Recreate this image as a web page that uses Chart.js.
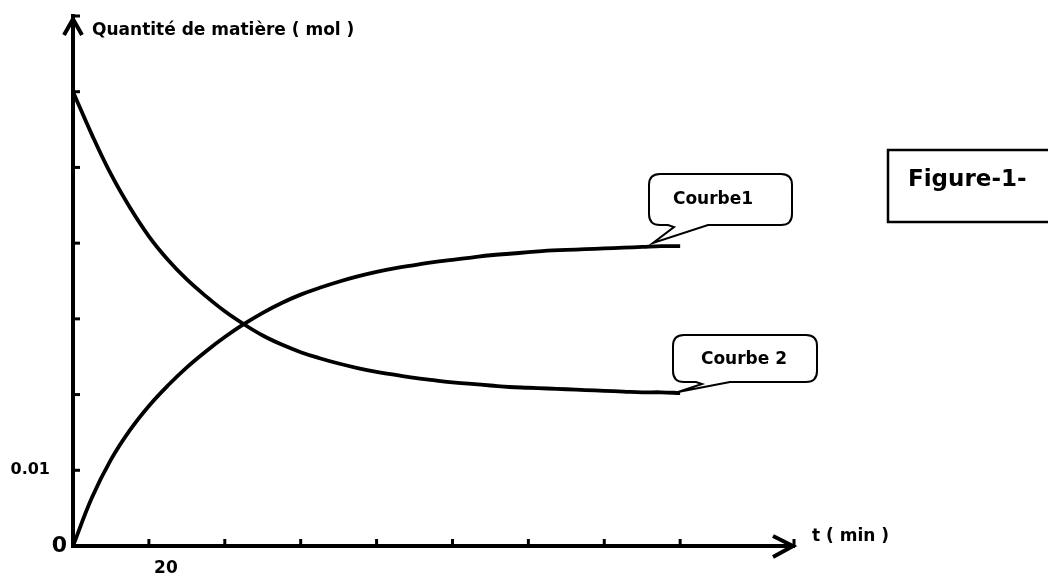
<!DOCTYPE html>
<html>
<head>
<meta charset="utf-8">
<script src="https://cdn.jsdelivr.net/npm/chart.js@4.4.1/dist/chart.umd.min.js"></script>
<style>
  html, body { margin: 0; padding: 0; background: #fff; }
  #wrap { width: 1048px; height: 576px; position: relative; }
</style>
</head>
<body>
<div id="wrap"><canvas id="c" width="1048" height="576"></canvas></div>
<script>
// ---- data ----
const times   = [0, 5, 10, 15, 20, 25, 30, 35, 40, 45, 50, 55, 60, 65, 70, 75, 80, 85, 90, 95, 100, 105, 110, 115, 120, 125, 130, 135, 140, 145, 150, 155, 160];
const courbe1 = [0, 0.0064, 0.0114, 0.0153, 0.0185, 0.0212, 0.0236, 0.0257, 0.0276, 0.0293, 0.0308, 0.0321, 0.0332, 0.0341, 0.0349, 0.0356, 0.0362, 0.0367, 0.0371, 0.0375, 0.0378, 0.0381, 0.0384, 0.0386, 0.0388, 0.0390, 0.0391, 0.0392, 0.0393, 0.0394, 0.0395, 0.0396, 0.0396];
const courbe2 = [0.0600, 0.0543, 0.0491, 0.0447, 0.0409, 0.0378, 0.0352, 0.0330, 0.0310, 0.0293, 0.0278, 0.0266, 0.0256, 0.0248, 0.0241, 0.0235, 0.0230, 0.0226, 0.0222, 0.0219, 0.0216, 0.0214, 0.0212, 0.0210, 0.0209, 0.0208, 0.0207, 0.0206, 0.0205, 0.0204, 0.0203, 0.0203, 0.0202];
const xLabeled = [20];
const yLabeled = [0.01];
const seriesNames = ['Courbe1', 'Courbe 2'];
const yTitle = 'Quantité de matière ( mol )';
const xTitle = 't ( min )';
const figTitle = 'Figure-1-';

const FONT = '"DejaVu Sans", "Open Sans", sans-serif';
const near = (a, b) => Math.abs(a - b) < 1e-9;

function toPts(ys) { return times.map((t, i) => ({ x: t, y: ys[i] })); }

function callout(ctx, x, y, w, h, r, tailA, tailB, tip, text, tx, ty, font) {
  ctx.save();
  ctx.beginPath();
  ctx.moveTo(x + r, y);
  ctx.lineTo(x + w - r, y);
  ctx.quadraticCurveTo(x + w, y, x + w, y + r);
  ctx.lineTo(x + w, y + h - r);
  ctx.quadraticCurveTo(x + w, y + h, x + w - r, y + h);
  ctx.lineTo(tailB, y + h);
  ctx.lineTo(tip[0], tip[1]);
  ctx.lineTo(tailA + 6, y + h + 2);
  ctx.lineTo(tailA, y + h);
  ctx.lineTo(x + r, y + h);
  ctx.quadraticCurveTo(x, y + h, x, y + h - r);
  ctx.lineTo(x, y + r);
  ctx.quadraticCurveTo(x, y, x + r, y);
  ctx.closePath();
  ctx.fillStyle = '#fff';
  ctx.fill();
  ctx.lineWidth = 2;
  ctx.strokeStyle = '#000';
  ctx.stroke();
  ctx.fillStyle = '#000';
  ctx.font = font;
  ctx.textAlign = 'center';
  ctx.textBaseline = 'middle';
  ctx.fillText(text, tx, ty);
  ctx.restore();
}

const decor = {
  id: 'decor',
  afterDraw(chart) {
    const ctx = chart.ctx;
    const xs = chart.scales.x, ys = chart.scales.y;
    const x0 = xs.getPixelForValue(0), y0 = ys.getPixelForValue(0);
    ctx.save();
    ctx.strokeStyle = '#000';
    ctx.lineCap = 'butt';
    // inward ticks
    ctx.lineWidth = 3;
    xs.ticks.forEach(t => {
      if (t.value === 0) return;
      const px = xs.getPixelForValue(t.value);
      ctx.beginPath(); ctx.moveTo(px, y0); ctx.lineTo(px, y0 - 7); ctx.stroke();
    });
    ys.ticks.forEach(t => {
      if (t.value === 0) return;
      const py = ys.getPixelForValue(t.value);
      ctx.beginPath(); ctx.moveTo(x0, py); ctx.lineTo(x0 + 7, py); ctx.stroke();
    });
    // arrow heads
    ctx.lineWidth = 4;
    ctx.lineJoin = 'miter';
    const xEnd = xs.right;
    ctx.beginPath();
    ctx.moveTo(xEnd - 21, y0 - 10); ctx.lineTo(xEnd - 1, y0); ctx.lineTo(xEnd - 21, y0 + 11);
    ctx.stroke();
    const yTop = ys.top + 3;
    ctx.beginPath();
    ctx.moveTo(x0 - 9, yTop + 16); ctx.lineTo(x0, yTop); ctx.lineTo(x0 + 9, yTop + 16);
    ctx.stroke();
    // texts
    ctx.fillStyle = '#000';
    ctx.textBaseline = 'middle';
    ctx.textAlign = 'left';
    ctx.font = 'bold 17px ' + FONT;
    ctx.fillText(yTitle, 92, 31);
    ctx.fillText(xTitle, 812, 537);
    ctx.textAlign = 'right';
    ctx.font = 'bold 22px ' + FONT;
    ctx.fillText('0', x0 - 6, y0);
    // figure box
    ctx.lineWidth = 2.5;
    ctx.strokeRect(888, 150, 170, 72);
    ctx.textAlign = 'left';
    ctx.font = 'bold 23px ' + FONT;
    ctx.fillText(figTitle, 908, 180);
    // callouts
    const f = 'bold 17px ' + FONT;
    callout(ctx, 649, 174, 143, 51, 11, 668, 708, [653, 243], seriesNames[0], 713, 200, f);
    callout(ctx, 673, 335, 144, 47, 11, 696, 730, [678, 392], seriesNames[1], 744, 360, f);
    ctx.restore();
  }
};

new Chart(document.getElementById('c'), {
  type: 'line',
  data: {
    datasets: [
      { label: seriesNames[0], data: toPts(courbe1), borderColor: '#000', borderWidth: 3.8, pointRadius: 0, tension: 0.4, fill: false },
      { label: seriesNames[1], data: toPts(courbe2), borderColor: '#000', borderWidth: 3.8, pointRadius: 0, tension: 0.4, fill: false }
    ]
  },
  options: {
    responsive: false,
    animation: false,
    layout: { padding: { top: 16, right: 254, left: 0, bottom: 0 } },
    plugins: { legend: { display: false }, tooltip: { enabled: false } },
    scales: {
      x: {
        type: 'linear', min: 0, max: 190,
        afterFit: s => { s.height = 30; s.paddingLeft = 0; s.paddingRight = 0; },
        grid: { display: false, drawTicks: false },
        border: { display: true, color: '#000', width: 4 },
        ticks: {
          stepSize: 20, autoSkip: false, maxRotation: 0, padding: 12, labelOffset: 17,
          color: '#000', font: { family: FONT, weight: 'bold', size: 17 },
          callback: v => xLabeled.some(l => near(l, v)) ? String(v) : ''
        }
      },
      y: {
        type: 'linear', min: 0, max: 0.07,
        afterFit: s => { s.width = 73; s.paddingTop = 0; s.paddingBottom = 0; },
        grid: { display: false, drawTicks: false },
        border: { display: true, color: '#000', width: 4 },
        ticks: {
          stepSize: 0.01, autoSkip: false, padding: 23,
          color: '#000', font: { family: FONT, weight: 'bold', size: 16 },
          callback: v => yLabeled.some(l => near(l, v)) ? String(v) : ''
        }
      }
    }
  },
  plugins: [decor]
});
</script>
</body>
</html>
